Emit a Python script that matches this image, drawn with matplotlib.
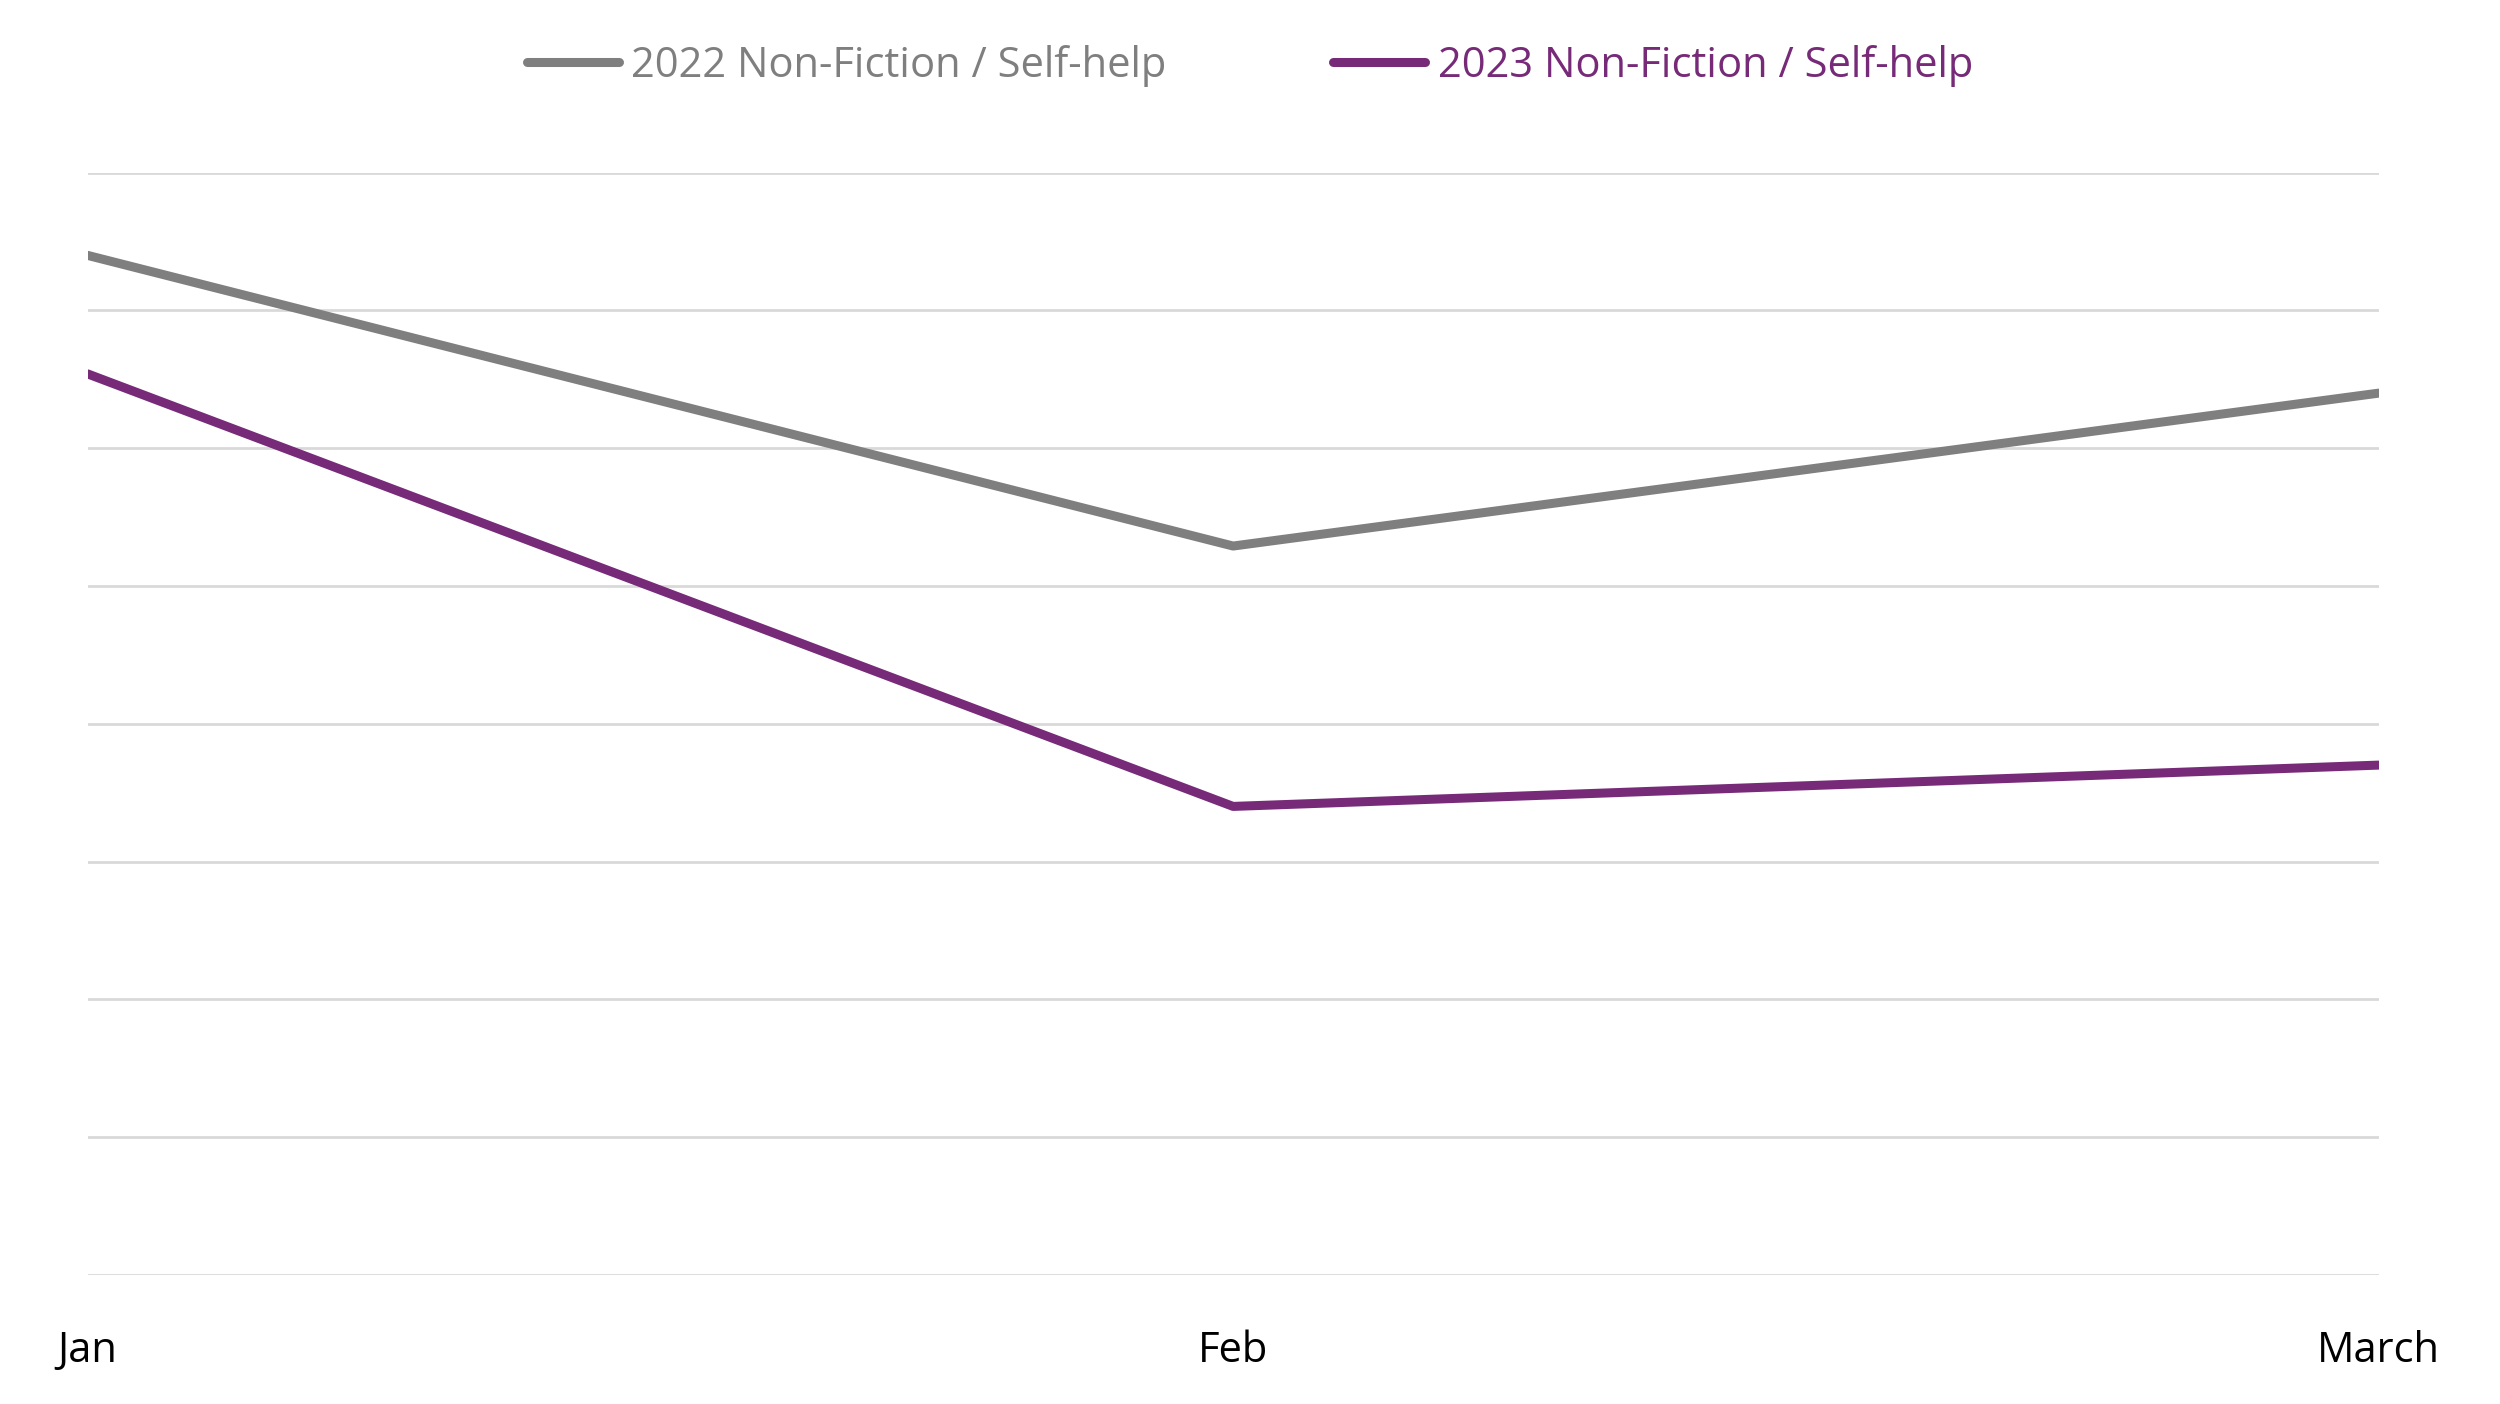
import matplotlib
matplotlib.use("Agg")
import matplotlib.pyplot as plt

months = ["Jan", "Feb", "March"]
sales_2022 = [7.40, 5.29, 6.40]
sales_2023 = [6.54, 3.40, 3.70]

plt.rcParams["font.family"] = ["Open Sans", "DejaVu Sans"]

fig = plt.figure(figsize=(25, 14.04), dpi=100)
ax = fig.add_axes([0.035, 0.092, 0.9165, 0.785])

x = range(len(months))
ax.plot(x, sales_2022, color="#7f7f7f", lw=6.5, label="2022 Non-Fiction / Self-help", solid_capstyle="round")
ax.plot(x, sales_2023, color="#762a78", lw=6.5, label="2023 Non-Fiction / Self-help", solid_capstyle="round")

ax.set_xlim(0, 2)
ax.set_ylim(0, 8)
ax.set_yticks(range(0, 9))
ax.set_yticklabels([])
ax.tick_params(axis="y", length=0)
ax.grid(axis="y", color="#d9d9d9", lw=2)
ax.set_axisbelow(True)
ax.set_xticks(list(x))
ax.set_xticklabels(months, fontsize=30)
ax.tick_params(axis="x", length=0, pad=40)
for s in ax.spines.values():
    s.set_visible(False)

leg = fig.legend(loc="upper center", bbox_to_anchor=(0.5, 0.995), ncol=2, frameon=False,
                 fontsize=30, handlelength=2.2, columnspacing=4, handletextpad=0.3)
for t, c in zip(leg.get_texts(), ["#7f7f7f", "#762a78"]):
    t.set_color(c)

fig.savefig("out.png", dpi=100)
